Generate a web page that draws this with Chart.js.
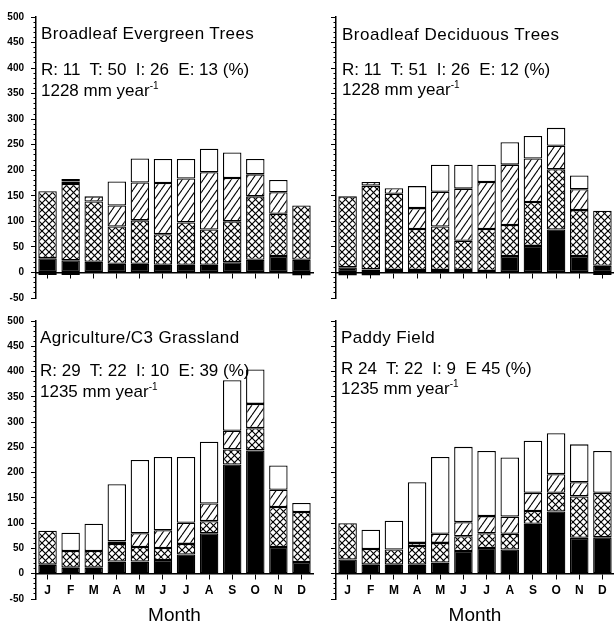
<!DOCTYPE html>
<html>
<head>
<meta charset="utf-8">
<script src="https://cdn.jsdelivr.net/npm/chart.js@4/dist/chart.umd.min.js"></script>
<style>
  body { margin: 0; background: #fff; }
  #wrap { position: relative; width: 614px; height: 623px; overflow: hidden; font-family: "Liberation Sans", Arial, sans-serif; }
  canvas { position: absolute; }
  .note { position: absolute; font-size: 17px; line-height: 17px; white-space: pre; color: #000; }
  .note sup { font-size: 10px; line-height: 0; vertical-align: 7px; }
</style>
</head>
<body>
<div id="wrap">
  <canvas id="c0" width="314" height="305" style="left:0;top:0"></canvas>
  <canvas id="c1" width="300" height="305" style="left:314px;top:0"></canvas>
  <canvas id="c2" width="314" height="318" style="left:0;top:305px"></canvas>
  <canvas id="c3" width="300" height="318" style="left:314px;top:305px"></canvas>

  <div class="note" style="left:41px;top:25px;letter-spacing:0.4px">Broadleaf Evergreen Trees</div>
  <div class="note" style="left:41px;top:61px">R: 11  T: 50  I: 26  E: 13 (%)</div>
  <div class="note" style="left:41px;top:82px">1228 mm year<sup>-1</sup></div>

  <div class="note" style="left:342px;top:26px;letter-spacing:0.5px">Broadleaf Deciduous Trees</div>
  <div class="note" style="left:342px;top:61px">R: 11  T: 51  I: 26  E: 12 (%)</div>
  <div class="note" style="left:342px;top:81px">1228 mm year<sup>-1</sup></div>

  <div class="note" style="left:40px;top:329px;letter-spacing:0.4px">Agriculture/C3 Grassland</div>
  <div class="note" style="left:40px;top:362px">R: 29  T: 22  I: 10  E: 39 (%)</div>
  <div class="note" style="left:40px;top:383px">1235 mm year<sup>-1</sup></div>

  <div class="note" style="left:341px;top:329px;letter-spacing:0.4px">Paddy Field</div>
  <div class="note" style="left:341px;top:360px">R 24  T: 22  I: 9  E 45 (%)</div>
  <div class="note" style="left:341px;top:380px">1235 mm year<sup>-1</sup></div>
</div>

<script>
const months = ['J', 'F', 'M', 'A', 'M', 'J', 'J', 'A', 'S', 'O', 'N', 'D'];

// segment heights (mm), stacked bottom to top: R (black), T (cross), I (diagonal), E (white)
// Broadleaf evergreen trees
const evgR = [28, 24, 21, 17, 17, 15, 15, 15, 20, 25, 32, 25];
const evgT = [131, 149, 118, 73, 85, 60, 83, 69, 80, 124, 83, 106];
const evgI = [null, 5, 10, 41, 74, 100, 86, 112, 85, 43, 42, null];
const evgE = [null, 5, null, 47, 47, 47, 38, 46, 50, 30, 24, null];
const evgNeg = [-5, -5, null, null, null, null, null, null, null, null, null, -6];

// Broadleaf deciduous trees
const decR = [10, 6, 5, 5, 5, 5, 3, 32, 52, 84, 32, 13];
const decT = [139, 164, 149, 80, 85, 57, 82, 61, 86, 118, 90, 108];
const decI = [null, 7, 11, 41, 68, 102, 92, 118, 85, 46, 41, null];
const decE = [null, null, null, 43, 53, 47, 34, 44, 44, 35, 27, null];
const decNeg = [-6, -6, null, null, null, null, null, null, null, null, null, -5];

// Agriculture / C3 grassland
const agrR = [18, 12, 12, 24, 24, 27, 38, 80, 216, 244, 53, 23];
const agrT = [67, 33, 33, 35, 29, 24, 21, 24, 30, 44, 79, 99];
const agrI = [null, null, null, 5, 27, 35, 42, 35, 37, 48, 34, null];
const agrE = [null, 36, 54, 113, 145, 145, 130, 122, 100, 68, 48, 18];

// Paddy field
const padR = [28, 18, 18, 18, 22, 45, 51, 48, 99, 123, 71, 72];
const padT = [72, 31, 30, 37, 39, 29, 29, 31, 25, 37, 82, 88];
const padI = [null, null, null, 6, 18, 28, 34, 34, 36, 37, 28, null];
const padE = [null, 38, 57, 120, 152, 149, 129, 117, 103, 81, 75, 83];

const yTicksMin = -50;
const yTicksMax = 500;

// hatch fills
function makeCross() {
  const c = document.createElement('canvas');
  c.width = 7; c.height = 7;
  const g = c.getContext('2d');
  g.fillStyle = '#fff';
  g.fillRect(0, 0, 7, 7);
  g.strokeStyle = '#000';
  g.lineWidth = 1.2;
  for (const k of [-7, 0, 7]) {
    g.beginPath(); g.moveTo(k, 0); g.lineTo(k + 7, 7); g.stroke();
    g.beginPath(); g.moveTo(k, 7); g.lineTo(k + 7, 0); g.stroke();
  }
  return g.createPattern(c, 'repeat');
}

function makeDiag() {
  const c = document.createElement('canvas');
  c.width = 7; c.height = 10;
  const g = c.getContext('2d');
  g.fillStyle = '#fff';
  g.fillRect(0, 0, 7, 10);
  g.strokeStyle = '#000';
  g.lineWidth = 1.1;
  for (const k of [-7, 0, 7]) {
    g.beginPath(); g.moveTo(k, 10); g.lineTo(k + 7, 0); g.stroke();
  }
  return g.createPattern(c, 'repeat');
}

const crossFill = makeCross();
const diagFill = makeDiag();

function seg(label, data, fill) {
  return {
    label: label,
    data: data,
    backgroundColor: fill,
    borderColor: '#000',
    borderWidth: 1.3,
    borderSkipped: false,
    barPercentage: 0.8,
    categoryPercentage: 1,
    yAxisID: 'y'
  };
}

function drawPanel(id, p) {
  const datasets = [];
  if (p.neg) datasets.push(seg('R', p.neg, '#000'));
  datasets.push(seg('R', p.R, '#000'));
  datasets.push(seg('T', p.T, crossFill));
  datasets.push(seg('I', p.I, diagFill));
  datasets.push(seg('E', p.E, '#fff'));

  new Chart(document.getElementById(id), {
    type: 'bar',
    data: { labels: months, datasets: datasets },
    options: {
      responsive: false,
      animation: false,
      layout: { padding: { left: 0, right: p.padRight, top: p.padTop, bottom: p.padBottom } },
      plugins: { legend: { display: false }, tooltip: { enabled: false } },
      scales: {
        x: {
          stacked: true,
          position: { y: 0 },
          grid: { drawOnChartArea: false, drawTicks: true, tickLength: 5, tickColor: '#000', tickWidth: 1, offset: false },
          border: { display: true, color: '#000', width: 1.5 },
          ticks: {
            display: p.monthLabels,
            color: '#000',
            padding: 5,
            maxRotation: 0,
            autoSkip: false,
            font: { family: 'Liberation Sans', size: 12, weight: 'bold' }
          },
          title: {
            display: p.monthLabels,
            text: 'Month',
            color: '#000',
            padding: 1,
            font: { family: 'Liberation Sans', size: 19 }
          }
        },
        y: {
          stacked: true,
          min: yTicksMin,
          max: yTicksMax,
          weight: 1,
          afterFit: function(s) {
            s.width = p.axisWidth;
            s.paddingTop = 0;
            s.paddingBottom = 0;
          },
          grid: { drawOnChartArea: false, tickLength: 5, tickColor: '#000', tickWidth: 1 },
          border: { display: true, color: '#000', width: 1.5 },
          ticks: {
            stepSize: 50,
            display: p.yLabels,
            color: '#000',
            padding: 7,
            autoSkip: false,
            font: { family: 'Liberation Sans', size: 10, weight: 'bold' }
          }
        },
        // minor ticks every 10
        y2: {
          position: 'left',
          min: yTicksMin,
          max: yTicksMax,
          weight: 0,
          afterFit: function(s) { s.width = 0; },
          grid: { drawOnChartArea: false, tickLength: 2.5, tickColor: '#000', tickWidth: 1 },
          border: { display: false },
          ticks: { stepSize: 10, display: false, autoSkip: false, maxTicksLimit: 100 }
        }
      }
    }
  });
}

drawPanel('c0', { R: evgR, T: evgT, I: evgI, E: evgE, neg: evgNeg,
  axisWidth: 36, padRight: 1, padTop: 17, padBottom: 7, yLabels: true, monthLabels: false });
drawPanel('c1', { R: decR, T: decT, I: decI, E: decE, neg: decNeg,
  axisWidth: 22, padRight: 0, padTop: 17, padBottom: 7, yLabels: false, monthLabels: false });
drawPanel('c2', { R: agrR, T: agrT, I: agrI, E: agrE,
  axisWidth: 36, padRight: 1, padTop: 16, padBottom: 24, yLabels: true, monthLabels: true });
drawPanel('c3', { R: padR, T: padT, I: padI, E: padE,
  axisWidth: 22, padRight: 0, padTop: 16, padBottom: 24, yLabels: false, monthLabels: true });
</script>
</body>
</html>
